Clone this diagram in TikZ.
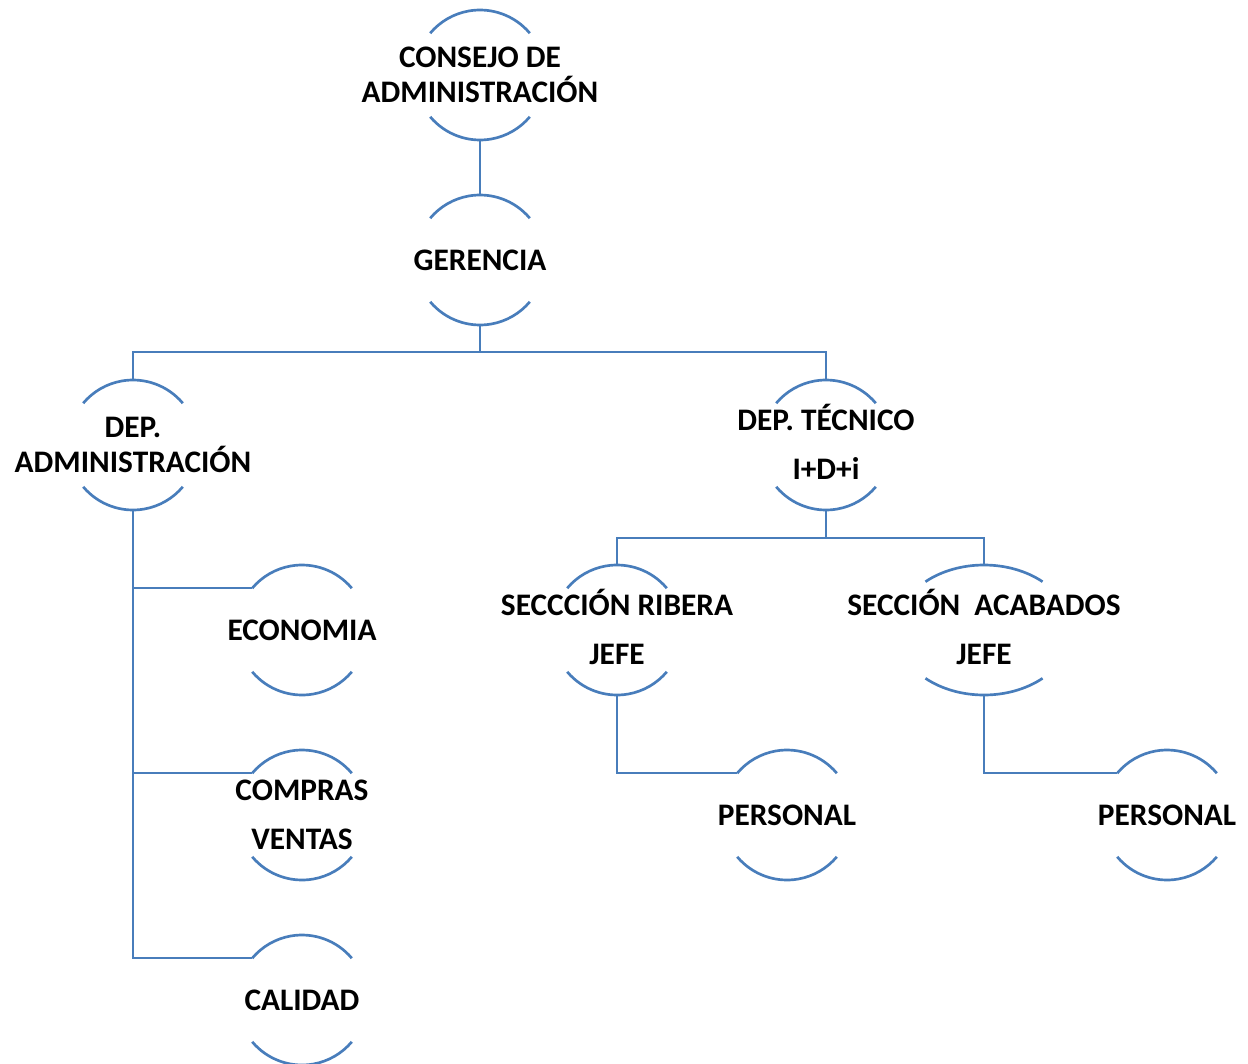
\documentclass[tikz,border=0pt]{standalone}
\usepackage{fontspec}
\setmainfont{Carlito}
\usetikzlibrary{shapes.geometric}
\definecolor{azul}{RGB}{72,125,187}

\begin{document}
\begin{tikzpicture}[x=0.75pt,y=0.75pt,
  linea/.style={draw=azul,line width=1.6pt},
  arco/.style={draw=azul,line width=2pt},
  unidad/.style={circle,minimum size=97.5pt,inner sep=0pt,outer sep=0pt},
  unidadancha/.style={ellipse,minimum width=131.25pt,minimum height=97.5pt,inner sep=0pt,outer sep=0pt},
  texto/.style={font=\bfseries\fontsize{23.5}{26}\selectfont,align=center,inner sep=0pt},
  textoalto/.style={texto,yshift=2.25pt}]

\useasboundingbox (0,0) rectangle (1248,-1063);

\node[unidad] (consejo) at (480,-75) {};
\node[unidad] (gerencia) at (480,-260) {};
\node[unidad] (depadm) at (133,-445) {};
\node[unidad] (deptec) at (826,-445) {};
\node[unidad] (economia) at (302,-630) {};
\node[unidad] (compras) at (302,-815) {};
\node[unidad] (calidad) at (302,-1000) {};
\node[unidad] (ribera) at (617,-630) {};
\node[unidadancha] (acabados) at (984,-630) {};
\node[unidad] (personal1) at (787,-815) {};
\node[unidad] (personal2) at (1167,-815) {};

\node[texto] (consejo-t) at (consejo) {CONSEJO DE\\ADMINISTRACIÓN};
\node[texto] (gerencia-t) at (gerencia) {GERENCIA};
\node[texto] (depadm-t) at (depadm) {DEP.\\ADMINISTRACIÓN};
\node[textoalto] (deptec-t) at (deptec) {DEP. TÉCNICO\\[10.5pt]I+D+i};
\node[texto] (economia-t) at (economia) {ECONOMIA};
\node[texto] (compras-t) at (compras) {COMPRAS\\[10.5pt]VENTAS};
\node[texto] (calidad-t) at (calidad) {CALIDAD};
\node[textoalto] (ribera-t) at (ribera) {SECCCIÓN RIBERA\\[10.5pt]JEFE};
\node[textoalto] (acabados-t) at (acabados) {SECCIÓN\ \ ACABADOS\\[10.5pt]JEFE};
\node[texto] (personal1-t) at (personal1) {PERSONAL};
\node[texto] (personal2-t) at (personal2) {PERSONAL};

\foreach \n in {consejo,gerencia,depadm,deptec,economia,compras,calidad,ribera,personal1,personal2}
{
	\draw[arco] (\n.40) arc (40:140:48.75pt);
	\draw[arco] (\n.220) arc (220:320:48.75pt);
}
\draw[arco] (acabados.center) ++(48:65.625pt and 48.75pt) arc (48:132:65.625pt and 48.75pt);
\draw[arco] (acabados.center) ++(228:65.625pt and 48.75pt) arc (228:312:65.625pt and 48.75pt);

\coordinate (barra1) at (480,-352);
\coordinate (barra2) at (826,-538);
\draw[linea] (consejo.south) -- (gerencia.north);
\draw[linea] (gerencia.south) -- (barra1);
\draw[linea] (depadm.north) |- (barra1) -| (deptec.north);
\draw[linea] (depadm.south) |- (calidad.140);
\draw[linea] (economia.140) -- (economia.140 -| depadm.south);
\draw[linea] (compras.140) -- (compras.140 -| depadm.south);
\draw[linea] (deptec.south) -- (barra2);
\draw[linea] (ribera.north) |- (barra2) -| (acabados.north);
\draw[linea] (ribera.south) |- (personal1.140);
\draw[linea] (acabados.south) |- (personal2.140);
\end{tikzpicture}
\end{document}
